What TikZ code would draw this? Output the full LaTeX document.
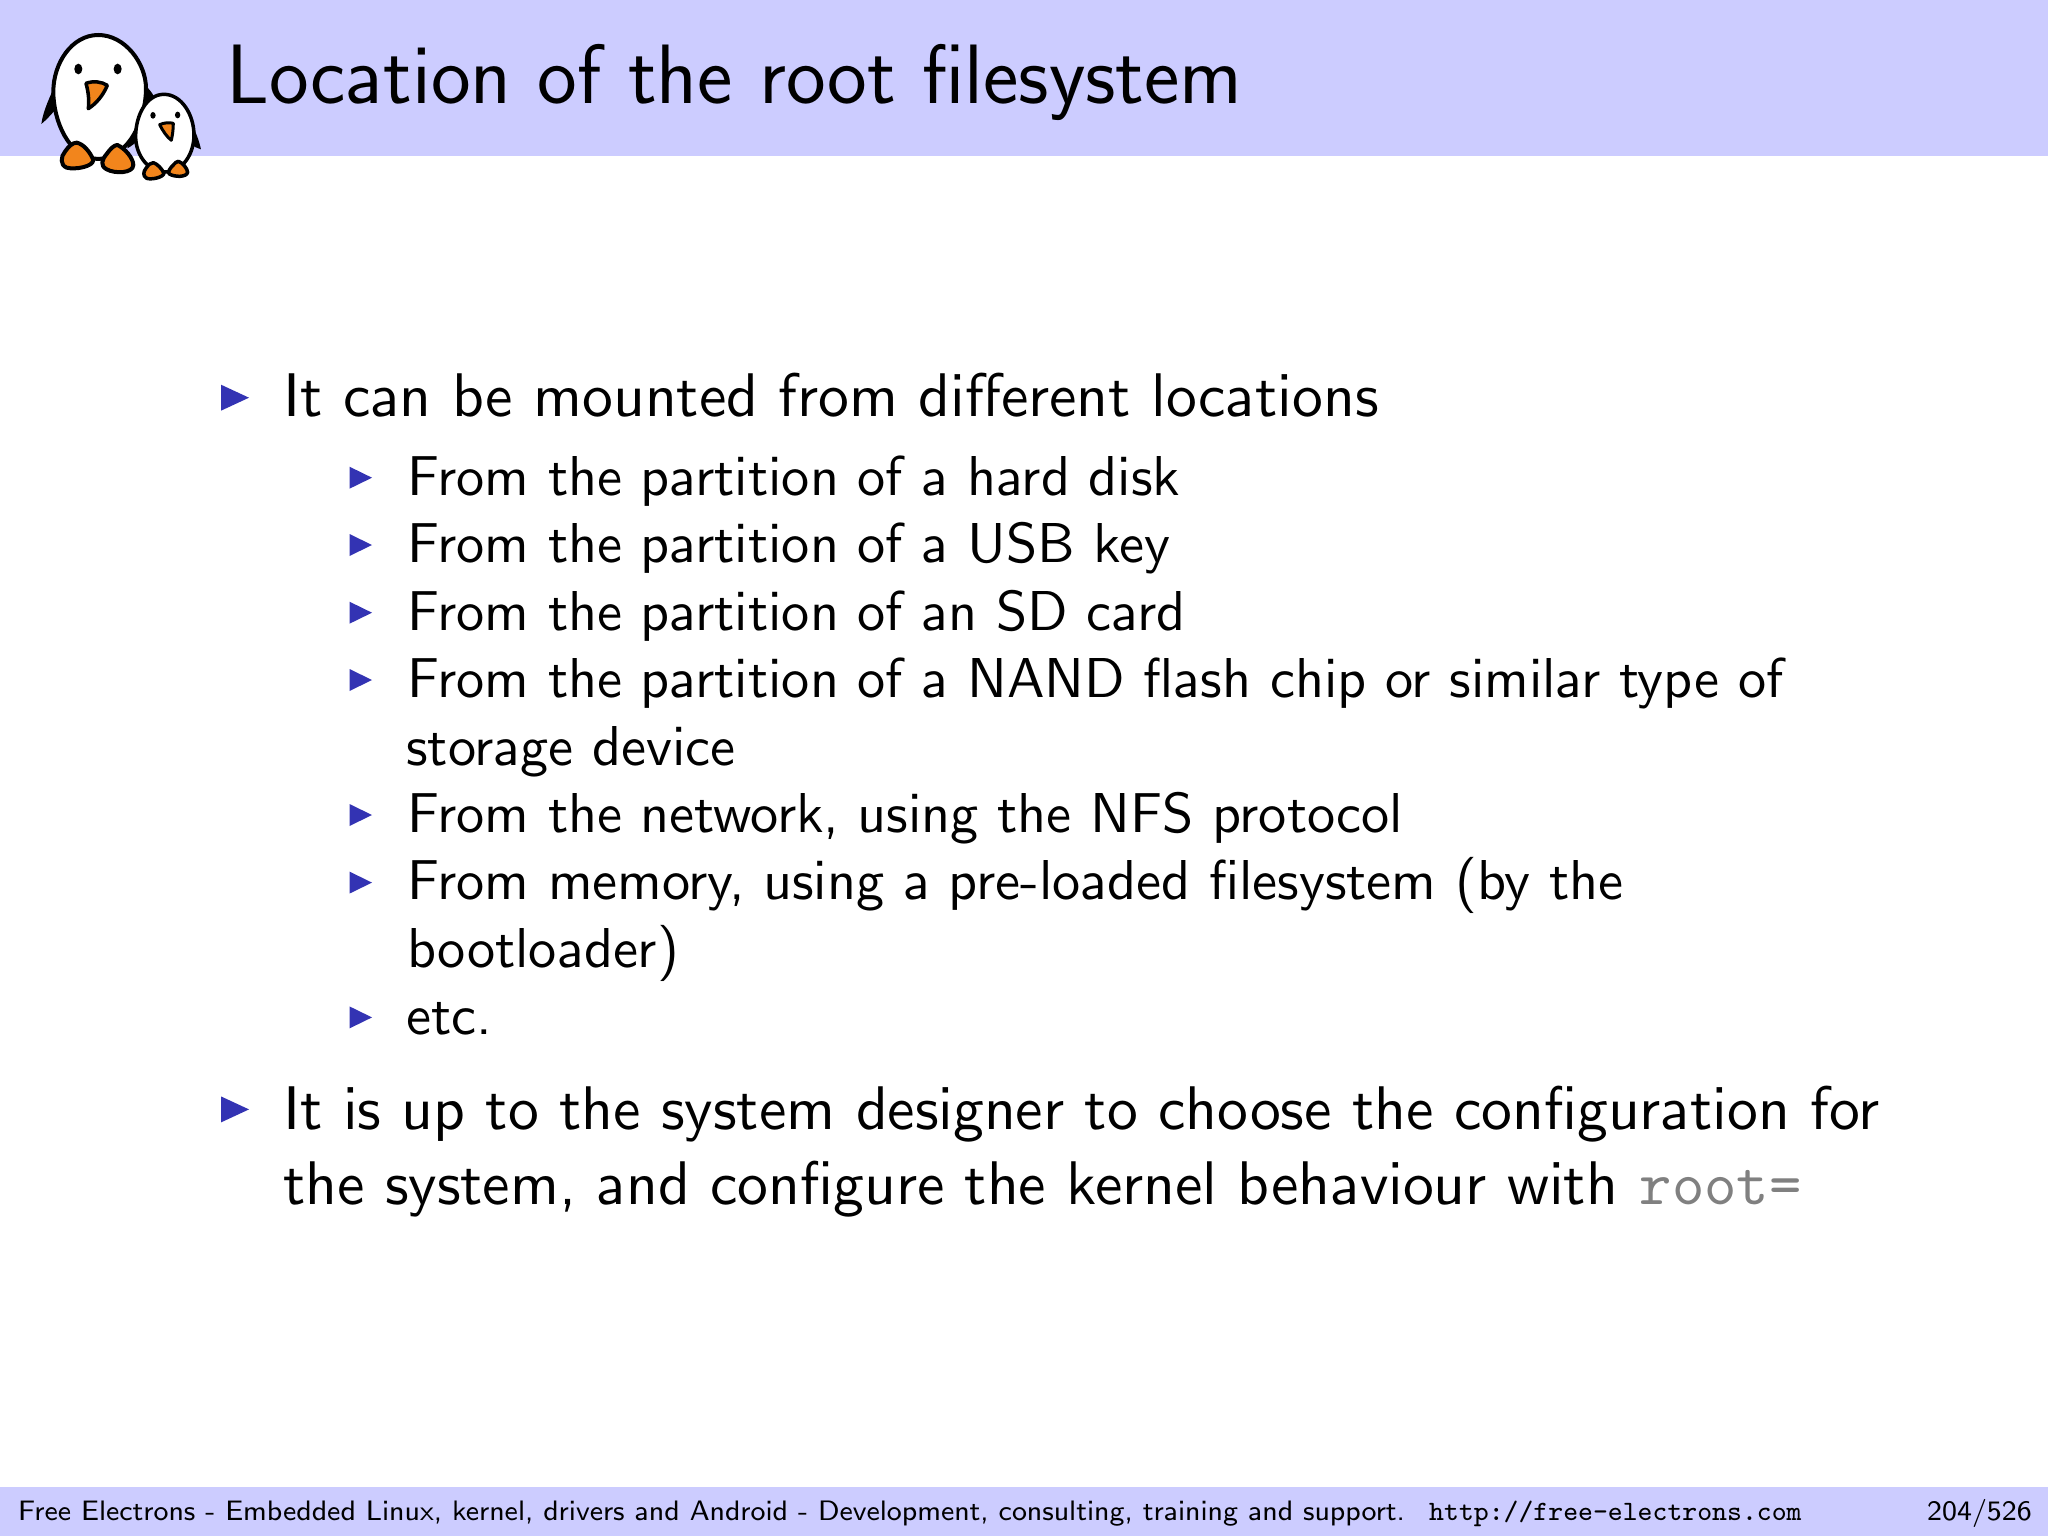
\documentclass[tikz,border=0pt]{standalone}
\font\titlef=cmss17 at 84.3pt
\font\onef=cmss10 at 61.6pt
\font\twof=cmss10 at 56.2pt
\font\ttonef=cmtt10 at 61.6pt
\font\footf=cmss8 at 28.12pt
\font\foottf=cmtt8 at 28.05pt
\definecolor{barblue}{RGB}{204,204,255}
\definecolor{bulletblue}{RGB}{51,51,179}
\definecolor{beakorange}{RGB}{242,133,28}
\definecolor{codegray}{RGB}{128,128,128}
\tikzset{
  line one/.style={anchor=base west,inner sep=0pt,font=\onef,text=black},
  line two/.style={anchor=base west,inner sep=0pt,font=\twof,text=black},
  foot text/.style={anchor=base west,inner sep=0pt,font=\footf,text=black},
  bullet one/.style={fill=bulletblue,draw=none},
  penguin/.style={draw=black,line width=4pt,line join=round},
}
\begin{document}
\begin{tikzpicture}[x=1pt,y=-1pt]
\useasboundingbox (0,0) rectangle (2048,1536);
\fill[white] (0,0) rectangle (2048,1536);
\fill[barblue] (0,0) rectangle (2048,156);
\fill[barblue] (0,1487) rectangle (2048,1536);
\node[anchor=base west,inner sep=0pt,font=\titlef] (title) at (226,103.3) {Location of the root filesystem};
% big penguin
\begin{scope}[x=0.3333pt,y=-0.3333pt]
\fill[black] (170,245) .. controls (150,290) and (130,330) .. (124,372) .. controls (145,355) and (160,335) .. (175,320) -- cycle;
\fill[black] (430,250) .. controls (445,265) and (455,275) .. (462,290) -- (430,310) -- cycle;
\draw[penguin,fill=white] (295,105) .. controls (215,105) and (160,190) .. (160,275) .. controls (160,360) and (205,475) .. (295,477) .. controls (385,475) and (438,360) .. (438,265) .. controls (438,190) and (375,105) .. (295,105) -- cycle;
\fill (235,207) ellipse (12 and 16);
\fill (353,207) ellipse (12 and 16);
\draw[penguin,fill=beakorange,line width=3.5pt] (258,250) .. controls (280,242) and (305,245) .. (322,256) .. controls (310,285) and (290,310) .. (265,326) .. controls (268,300) and (265,275) .. (258,250) -- cycle;
\draw[penguin,fill=beakorange] (230,428) .. controls (250,432) and (270,455) .. (280,480) .. controls (280,500) and (225,510) .. (200,503) .. controls (180,495) and (182,470) .. (195,455) .. controls (205,440) and (218,428) .. (230,428) -- cycle;
\draw[penguin,fill=beakorange] (352,435) .. controls (375,445) and (400,475) .. (400,495) .. controls (400,520) and (345,522) .. (320,508) .. controls (300,497) and (305,480) .. (320,462) .. controls (330,448) and (342,435) .. (352,435) -- cycle;
% small penguin
\fill[black] (412,375) .. controls (400,395) and (388,420) .. (382,445) .. controls (392,440) and (402,432) .. (410,425) -- cycle;
\fill[black] (575,375) .. controls (588,395) and (598,425) .. (603,448) .. controls (592,445) and (582,440) .. (572,432) -- cycle;
\draw[penguin,fill=white,line width=3.5pt] (492,283) .. controls (440,283) and (407,345) .. (407,410) .. controls (407,460) and (440,515) .. (495,516) .. controls (550,515) and (582,460) .. (582,405) .. controls (582,345) and (545,283) .. (492,283) -- cycle;
\fill (459,346) ellipse (8 and 10);
\fill (533,345) ellipse (8 and 10);
\draw[penguin,fill=beakorange,line width=3pt] (479,374) .. controls (492,368) and (508,367) .. (520,370) .. controls (520,390) and (517,408) .. (514,421) .. controls (500,410) and (488,392) .. (479,374) -- cycle;
\draw[penguin,fill=beakorange,line width=3.5pt] (460,488) .. controls (472,492) and (485,505) .. (492,520) .. controls (490,532) and (455,540) .. (440,535) .. controls (428,528) and (430,515) .. (438,505) .. controls (445,495) and (452,488) .. (460,488) -- cycle;
\draw[penguin,fill=beakorange,line width=3.5pt] (535,484) .. controls (548,488) and (562,505) .. (563,517) .. controls (560,532) and (525,532) .. (508,522) .. controls (502,517) and (510,505) .. (518,497) .. controls (524,490) and (530,484) .. (535,484) -- cycle;
\end{scope}
% level one
\node[line one] (a1) at (283,416) {It can be mounted from different locations};
\node[line one] (b1) at (283,1129) {It is up to the system designer to choose the configuration for};
\node[line one] (b2) at (283,1204.6) {the system, and configure the kernel behaviour with {\ttonef\color{codegray}root=}};
% level two
\node[line two] (c1) at (406.8,495.2) {From the partition of a hard disk};
\node[line two] (c2) at (406.8,562.6) {From the partition of a USB key};
\node[line two] (c3) at (406.8,630.1) {From the partition of an SD card};
\node[line two] (c4) at (406.8,697.6) {From the partition of a NAND flash chip or similar type of};
\node[line two] (c5) at (406,765.1) {storage device};
\node[line two] (c6) at (406.8,832.6) {From the network, using the NFS protocol};
\node[line two] (c7) at (406.8,899.8) {From memory, using a pre-loaded filesystem (by the};
\node[line two] (c8) at (406.8,967) {bootloader)};
\node[line two] (c9) at (406,1034.5) {etc.};
% bullets
\foreach \py in {397.7,1109.4} \fill[bullet one] (221,\py-13) -- (249,\py) -- (221,\py+13) -- cycle;
\foreach \py in {477.7,545,612.7,680,815,882.6,1017.4} \fill[bullet one] (349.5,\py-11) -- (372,\py) -- (349.5,\py+11) -- cycle;
% footer
\node[foot text] (f1) at (18,1520) {Free Electrons - Embedded Linux, kernel, drivers and Android - Development, consulting, training and support.};
\node[anchor=base west,inner sep=0pt,font=\foottf] (f2) at (1429,1520) {http://free-electrons.com};
\node[foot text] (f3) at (1927,1520) {204/526};
\end{tikzpicture}
\end{document}
